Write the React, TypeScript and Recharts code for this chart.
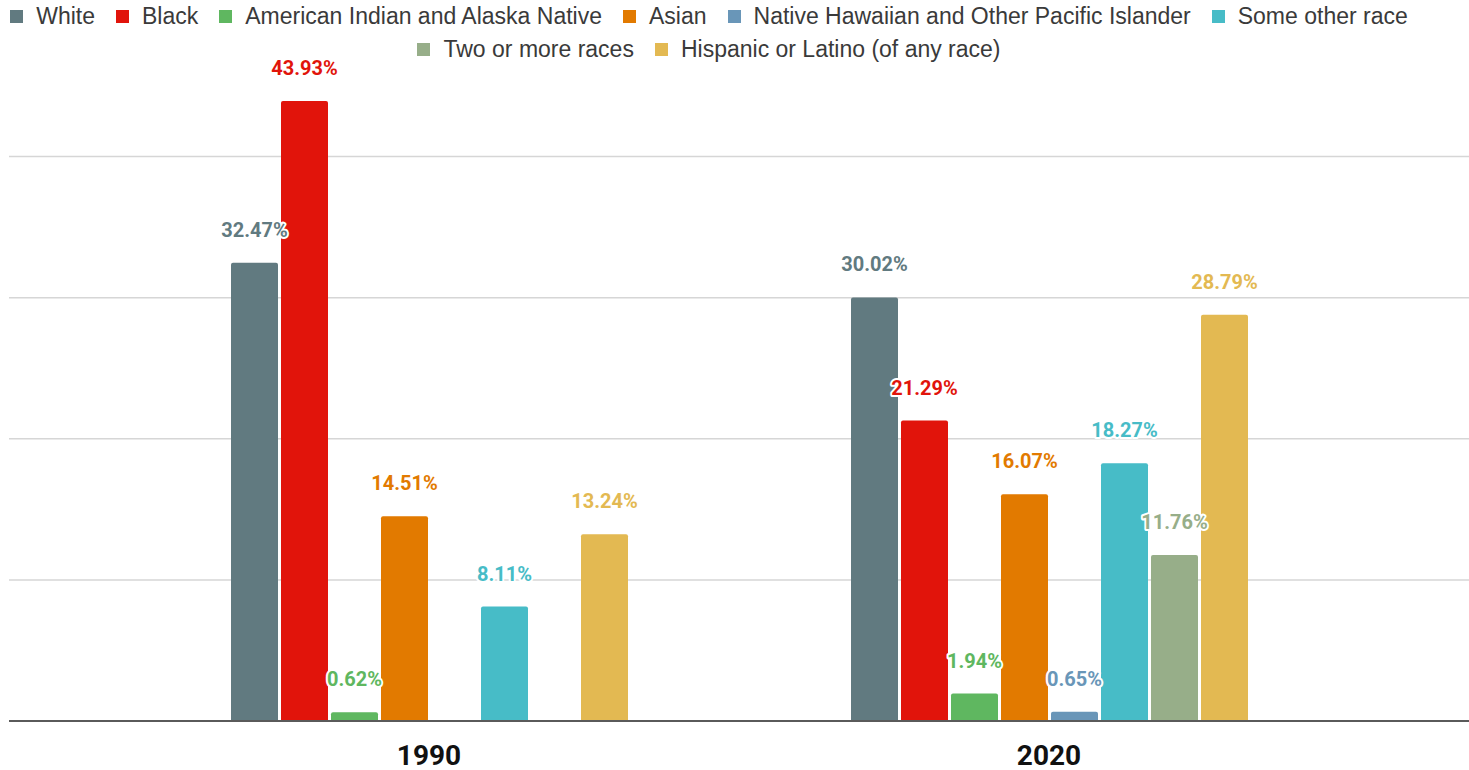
import { BarChart, Bar, XAxis, YAxis, CartesianGrid, Legend, LabelList } from 'recharts';

const years = ['1990', '2020'];
const white = [32.47, 30.02];
const black = [43.93, 21.29];
const aian = [0.62, 1.94];
const asian = [14.51, 16.07];
const nhpi = [null, 0.65];
const otherRace = [8.11, 18.27];
const twoOrMore = [null, 11.76];
const hispanic = [13.24, 28.79];
const yTicks = [0, 10, 20, 30, 40];

const series = [
  { key: 'white', name: 'White', values: white, color: '#617a80' },
  { key: 'black', name: 'Black', values: black, color: '#e1140b' },
  { key: 'aian', name: 'American Indian and Alaska Native', values: aian, color: '#5fb760' },
  { key: 'asian', name: 'Asian', values: asian, color: '#e27a00' },
  { key: 'nhpi', name: 'Native Hawaiian and Other Pacific Islander', values: nhpi, color: '#6996b8' },
  { key: 'other', name: 'Some other race', values: otherRace, color: '#47bcc7' },
  { key: 'two', name: 'Two or more races', values: twoOrMore, color: '#97ae89' },
  { key: 'hispanic', name: 'Hispanic or Latino (of any race)', values: hispanic, color: '#e3b952' },
];

const data = years.map((year, i) => {
  const row: Record<string, any> = { year };
  series.forEach((s) => { row[s.key] = s.values[i]; });
  return row;
});

const makeLabel = (color: string) => (props: any) => {
  const { x, y, width, value } = props;
  if (value == null) return null;
  return (
    <text
      x={Number(x) + Number(width) / 2}
      y={Number(y) - 33}
      fill={color}
      textAnchor="middle"
      dominantBaseline="central"
      fontFamily="Roboto"
      fontWeight={700}
      fontSize={20}
      stroke="#fff"
      strokeWidth={4}
      strokeLinejoin="round"
      paintOrder="stroke"
    >
      {Number(value).toFixed(2)}%
    </text>
  );
};

const YearTick = ({ x, y, payload }: any) => (
  <text x={x} y={y + 34} textAnchor="middle" dominantBaseline="central"
    fontFamily="Roboto" fontWeight={700} fontSize={28} fill="#111">
    {payload.value}
  </text>
);

const LegendBox = () => (
  <div style={{
    display: 'flex', flexWrap: 'wrap', justifyContent: 'center', height: 66,
    fontFamily: '"Liberation Sans", Arial, sans-serif', fontSize: 23, color: '#3a3a3a',
  }}>
    {series.map((s) => (
      <div key={s.key} style={{ display: 'flex', alignItems: 'center', height: 33, margin: '0 10.5px' }}>
        <span style={{ width: 13, height: 13, background: s.color, marginRight: 13, display: 'inline-block' }} />
        <span style={{ lineHeight: '33px', whiteSpace: 'nowrap' }}>{s.name}</span>
      </div>
    ))}
  </div>
);

export default function App() {
  return (
    <div style={{ position: 'absolute', left: 0, top: 0, background: '#fff' }}>
      <BarChart
        width={1469}
        height={770}
        data={data}
        margin={{ top: 20, right: 0, bottom: 0, left: 9 }}
        barSize={47}
        barGap={3}
      >
        <CartesianGrid vertical={false} horizontalValues={yTicks} stroke="#d6d6d6" strokeWidth={1.5} />
        <Legend
          verticalAlign="top"
          align="center"
          content={<LegendBox />}
          wrapperStyle={{ left: -11, top: 0, width: 1440, height: 66 }}
        />
        <XAxis
          dataKey="year"
          height={49}
          padding={{ left: 110, right: 110 }}
          tickLine={false}
          tickSize={0}
          tickMargin={0}
          axisLine={{ stroke: '#5a5a5a', strokeWidth: 2 }}
          tick={<YearTick />}
        />
        <YAxis
          width={0}
          domain={[0, 45]}
          ticks={yTicks}
          tick={{ fill: 'none', fontSize: 1 }}
          axisLine={false}
          tickLine={false}
        />
        {series.map((s) => (
          <Bar key={s.key} dataKey={s.key} name={s.name} fill={s.color} radius={[2, 2, 0, 0]} isAnimationActive={false}>
            <LabelList dataKey={s.key} content={makeLabel(s.color)} />
          </Bar>
        ))}
      </BarChart>
    </div>
  );
}
